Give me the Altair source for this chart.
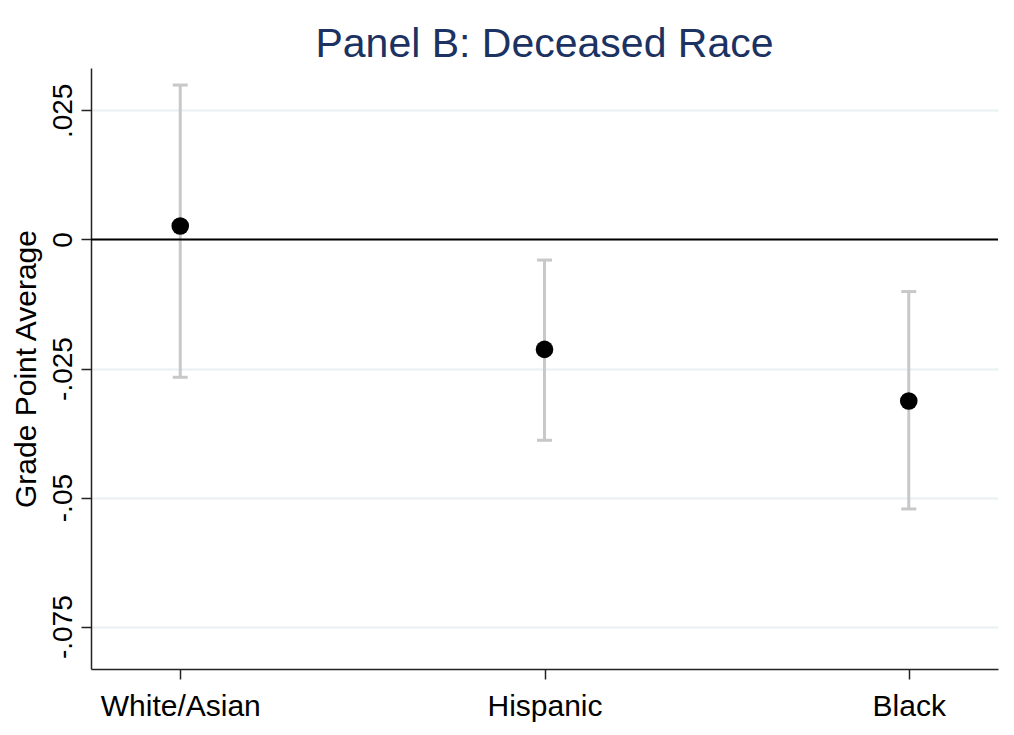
import altair as alt
import pandas as pd

# ---- data ----
groups = ["White/Asian", "Hispanic", "Black"]
estimates = [0.0026, -0.0213, -0.0313]
ci_low = [-0.0267, -0.0389, -0.0522]
ci_high = [0.0299, -0.0040, -0.0101]

y_ticks = [0.025, 0, -0.025, -0.05, -0.075]
y_tick_labels = [".025", "0", "-.025", "-.05", "-.075"]
y_domain = [-0.0832, 0.0332]
zero_line = [0]

title_text = "Panel B: Deceased Race"
y_title = "Grade Point Average"

df = pd.DataFrame({"group": groups, "est": estimates, "lo": ci_low, "hi": ci_high})
zdf = pd.DataFrame({"z": zero_line})

FONT = "Liberation Sans"

label_expr = ""
for v, l in zip(y_ticks, y_tick_labels):
    label_expr += f"abs(datum.value - ({v})) < 1e-9 ? '{l}' : "
label_expr += "datum.label"

y_scale = alt.Scale(domain=y_domain, nice=False, zero=False)
y_axis = alt.Axis(
    values=y_ticks,
    labelExpr=label_expr,
    labelAngle=270,
    labelAlign="center",
    labelBaseline="alphabetic",
    labelPadding=10,
    labelFontSize=28,
    labelFont=FONT,
    labelColor="#000000",
    tickSize=10,
    tickColor="#222222",
    tickWidth=1.5,
    domainColor="#222222",
    domainWidth=1.5,
    grid=True,
    gridColor="#e8f0f2",
    gridWidth=2,
    title=y_title,
    titleFont=FONT,
    titleFontSize=30,
    titleFontWeight="normal",
    titleColor="#000000",
    titleAngle=270,
    titleAlign="center",
    titleBaseline="alphabetic",
    titleX=-56,
    titleY=300.5,
)

x_enc = alt.X(
    "group:N",
    sort=groups,
    scale=alt.Scale(type="point", padding=0.245),
    axis=alt.Axis(
        title=None,
        labelAngle=0,
        labelFont=FONT,
        labelFontSize=30,
        labelColor="#000000",
        labelPadding=12,
        labelBaseline="top",
        tickSize=10,
        tickColor="#222222",
        tickWidth=1.5,
        domainColor="#222222",
        domainWidth=1.5,
        grid=False,
    ),
)

base = alt.Chart(df).encode(x=x_enc)

bars = base.mark_rule(color="#c8c8c8", strokeWidth=3).encode(
    y=alt.Y("lo:Q", scale=y_scale, axis=y_axis, title=y_title),
    y2="hi:Q",
)
cap_lo = base.mark_tick(color="#c8c8c8", thickness=3, size=15, opacity=1).encode(
    y=alt.Y("lo:Q", scale=y_scale, title=y_title)
)
cap_hi = base.mark_tick(color="#c8c8c8", thickness=3, size=15, opacity=1).encode(
    y=alt.Y("hi:Q", scale=y_scale, title=y_title)
)
zero = alt.Chart(zdf).mark_rule(color="#000000", strokeWidth=2).encode(
    y=alt.Y("z:Q", scale=y_scale, title=y_title)
)
points = base.mark_circle(color="#000000", size=310, opacity=1).encode(
    y=alt.Y("est:Q", scale=y_scale, title=y_title)
)

chart = (
    alt.layer(bars, cap_lo, cap_hi, zero, points)
    .properties(
        width=907,
        height=601,
        title=alt.TitleParams(
            text=title_text,
            font=FONT,
            fontSize=41,
            fontWeight="normal",
            color="#1c3262",
            anchor="middle",
            baseline="alphabetic",
            offset=13,
            dy=43,
        ),
        autosize=alt.AutoSizeParams(type="none"),
        padding={"left": 83, "top": 60, "right": 8, "bottom": 58},
        background="#ffffff",
    )
    .configure_view(stroke=None)
)

chart.save("out.html", embed_options={"renderer": "svg", "actions": False})
